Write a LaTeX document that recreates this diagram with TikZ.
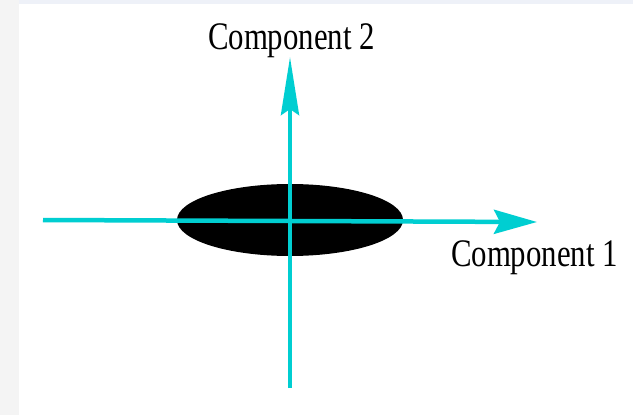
\documentclass[tikz,border=0pt]{standalone}
\usepackage{fontspec}
\newfontfamily\axisfont{Liberation Serif}[FakeStretch=0.79]
\usepackage{tikz}
\usetikzlibrary{arrows.meta, shapes.geometric}
\definecolor{axiscyan}{RGB}{0,206,209}
\definecolor{pagegray}{RGB}{244,244,244}
\definecolor{topband}{RGB}{238,241,248}
\tikzset{
  axis/.style={line width=4.5pt, axiscyan},
  xarrow/.style={axis, -{Stealth[length=43pt, width=24pt, inset=6pt]}},
  yarrow/.style={axis, -{Stealth[length=58pt, width=18pt, inset=6pt]}},
  blob/.style={ellipse, fill=black, inner sep=0pt, minimum width=226pt, minimum height=72pt},
  lbl/.style={font=\axisfont\fontsize{39}{40}\selectfont, inner sep=0pt, anchor=base}
}

\begin{document}
\begin{tikzpicture}[x=1pt, y=-1pt]
  % frame
  \useasboundingbox (0,0) rectangle (633,415);
  \fill[white] (0,0) rectangle (633,415);
  \fill[pagegray] (0,0) rectangle (19,415);
  \fill[topband] (19,0) rectangle (633,4);
  % cloud of points
  \node[blob] (blob) at (290,220) {};
  % axes
  \coordinate (xl) at (43,220);
  \coordinate (xr) at (537,222);
  \coordinate (yb) at (290,388);
  \coordinate (yt) at (290,57);
  \draw[xarrow] (xl) -- (xr);
  \draw[yarrow] (yb) -- (yt);
  % labels
  \node[lbl] (c2) at (291.5,49) {Component 2};
  \node[lbl] (c1) at (534.5,266) {Component 1};
\end{tikzpicture}
\end{document}
